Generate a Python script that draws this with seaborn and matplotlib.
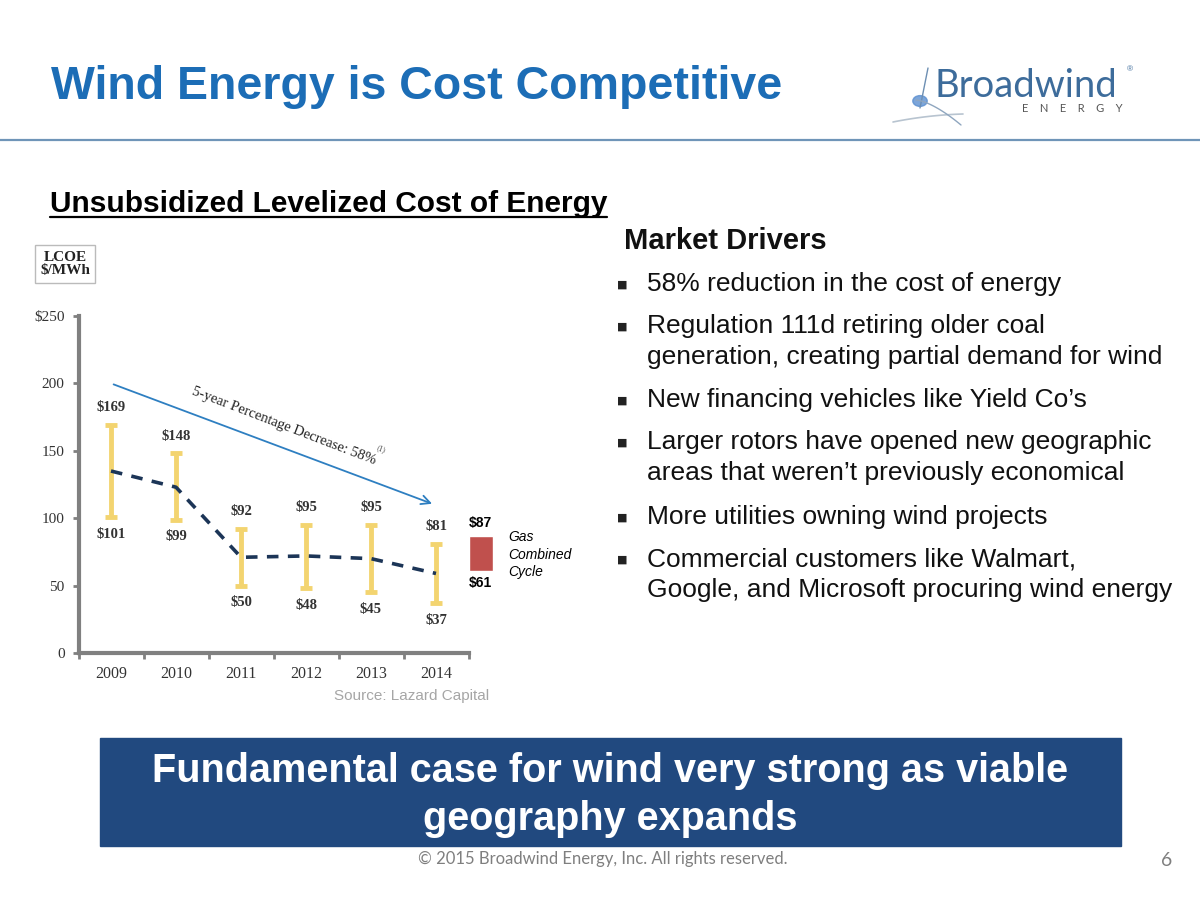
import numpy as np
import pandas as pd
import matplotlib
matplotlib.use("Agg")
import matplotlib.pyplot as plt
from matplotlib.patches import Rectangle
from matplotlib.lines import Line2D
import seaborn as sns

# Chart data
years = ["2009", "2010", "2011", "2012", "2013", "2014"]
lcoe_high = [169, 148, 92, 95, 95, 81]
lcoe_low = [101, 99, 50, 48, 45, 37]
lcoe_mid = [135, 123, 71, 72, 70, 59]
gas_low = 61
gas_high = 87
trend_start = 200
trend_end = 110
y_ticks = [0, 50, 100, 150, 200, 250]
y_tick_labels = ["0", "50", "100", "150", "200", "$250"]

bullets = [
    "58% reduction in the cost of energy",
    "Regulation 111d retiring older coal\ngeneration, creating partial demand for wind",
    "New financing vehicles like Yield Co\u2019s",
    "Larger rotors have opened new geographic\nareas that weren\u2019t previously economical",
    "More utilities owning wind projects",
    "Commercial customers like Walmart,\nGoogle, and Microsoft procuring wind energy",
]
bullet_y = [285, 327, 401, 443, 518, 560]

df = pd.DataFrame({"pos": np.arange(len(years)), "mid": lcoe_mid,
                   "low": lcoe_low, "high": lcoe_high})

sns.set_theme(style="white")
SANS = ["Liberation Sans", "DejaVu Sans"]
SERIF = ["Liberation Serif", "DejaVu Serif"]
plt.rcParams["font.family"] = SANS

W, H = 1200, 900
fig = plt.figure(figsize=(12, 9), dpi=100)
fig.patch.set_facecolor("white")


def fx(x):
    return x / W


def fy(y):
    return 1 - y / H


# -----------------------
# Slide header
# -----------------------
fig.text(fx(51), fy(87), "Wind Energy is Cost Competitive", fontsize=33.5,
         fontweight="bold", color="#1c6db6", va="center", ha="left")
fig.add_artist(Line2D([0, 1], [fy(140), fy(140)], transform=fig.transFigure,
                      color="#6f95b8", lw=1.6))

# logo
fig.text(fx(935), fy(86), "Broadwind", fontsize=27.5, color="#3d6c9b",
         family=["Lato", "DejaVu Sans"], va="center", ha="left")
fig.text(fx(1127), fy(70), "\u00ae", fontsize=6, color="#3d6c9b", va="center")
fig.text(fx(1072), fy(109), "E    N    E    R    G    Y", fontsize=8, color="#555555",
         family=["Lato", "DejaVu Sans"], va="center", ha="center")
t = np.linspace(0, 1, 50)
fig.add_artist(Line2D(fx(893 + 70 * t), fy(122 - 14 * t + 6 * t ** 2),
                      transform=fig.transFigure, color="#b8c4d0", lw=1.2))
fig.add_artist(Line2D(fx(928 - 8 * t), fy(68 + 40 * t), transform=fig.transFigure,
                      color="#6d8fb3", lw=1.0))
fig.add_artist(Line2D(fx(916 + 45 * t), fy(100 + 25 * t ** 1.5), transform=fig.transFigure,
                      color="#8fa6bf", lw=1.0))
fig.add_artist(plt.Circle((fx(920), fy(101)), 0.006, transform=fig.transFigure,
                          color="#5b8fd0", alpha=0.8))

# subtitle
fig.text(fx(50), fy(204), "Unsubsidized Levelized Cost of Energy", fontsize=21.5,
         fontweight="bold", color="black", va="center", ha="left")
fig.add_artist(Line2D([fx(50), fx(607)], [fy(217), fy(217)], transform=fig.transFigure,
                      color="black", lw=1.6))

# Market drivers
fig.text(fx(624), fy(241), "Market Drivers", fontsize=21, fontweight="bold",
         color="#111111", va="center", ha="left")
for txt, yb in zip(bullets, bullet_y):
    fig.text(fx(617), fy(yb), "\u25a0", fontsize=8, color="#222222",
             va="center", ha="left", family=["DejaVu Sans"])
    fig.text(fx(647), fy(yb - 13), txt, fontsize=19, color="#111111", va="top",
             ha="left", linespacing=1.38)

# -----------------------
# Chart
# -----------------------
ax = fig.add_axes([fx(78.5), fy(653), (566 - 78.5) / W, (653 - 316) / H])
ax.set_xlim(-0.5, 7.0)
ax.set_ylim(0, 250)
ax.patch.set_alpha(0)

gold = "#f3d470"
center = (df["low"] + df["high"]) / 2
ax.errorbar(df["pos"], center, yerr=(df["high"] - df["low"]) / 2, fmt="none",
            ecolor=gold, elinewidth=3.5, capsize=4.5, capthick=3.5, zorder=2)
sns.lineplot(data=df, x="pos", y="mid", ax=ax, color="#1c3557", lw=2.6,
             dashes=False, zorder=3)
ax.lines[-1].set_dashes((3.2, 2.6))

for p, lo, hi in zip(df["pos"], df["low"], df["high"]):
    ax.text(p, hi + 8, f"${hi}", ha="center", va="bottom", fontsize=10.5,
            family=SERIF, fontweight="bold", color="#333333")
    ax.text(p, lo - 8, f"${lo}", ha="center", va="top", fontsize=10.5,
            family=SERIF, fontweight="bold", color="#333333")

# gas combined cycle bar
gas_x = 5.69
ax.bar([gas_x], [gas_high - gas_low], bottom=[gas_low], width=0.37,
       color="#c0504d", clip_on=False)
ax.text(gas_x, gas_high + 4, f"${gas_high}", ha="center", va="bottom",
        fontsize=10, fontweight="bold", color="black")
ax.text(gas_x, gas_low - 4, f"${gas_low}", ha="center", va="top",
        fontsize=10, fontweight="bold", color="black")
ax.text(6.11, (gas_low + gas_high) / 2 - 1, "Gas\nCombined\nCycle", ha="left",
        va="center", fontsize=10, style="italic", color="black", linespacing=1.3)

# trend arrow
ax.annotate("", xy=(4.98, trend_end), xytext=(0, trend_start),
            arrowprops=dict(arrowstyle="->", color="#2e7fc1", lw=1.3,
                            mutation_scale=16))
ax.text(2.66, 168, "5-year Percentage Decrease: 58%", rotation=-21,
        rotation_mode="anchor", ha="center", va="center", fontsize=10.5,
        family=SERIF, color="#222222")
ax.text(4.16, 151, "(1)", rotation=-21, ha="center", va="center", fontsize=5.5,
        family=SERIF, color="#444444")

# axes styling
for s in ["top", "right"]:
    ax.spines[s].set_visible(False)
for s in ["left", "bottom"]:
    ax.spines[s].set_color("#808080")
    ax.spines[s].set_linewidth(3)
ax.spines["bottom"].set_bounds(-0.5, 5.5)
ax.set_yticks(y_ticks)
ax.set_yticklabels(y_tick_labels, family=SERIF, fontsize=11, color="#333333")
ax.set_xticks(df["pos"])
ax.set_xticklabels(years, family=SERIF, fontsize=11.5, color="#333333")
ax.set_xticks(np.arange(-0.5, 6.0, 1.0), minor=True)
ax.tick_params(axis="x", which="major", length=0, pad=9)
ax.tick_params(axis="x", which="minor", length=4, width=2, color="#808080",
               direction="out", bottom=True)
ax.tick_params(axis="y", length=4, width=2, color="#808080", direction="out",
               left=True, pad=6)
ax.set_xlabel("")
ax.set_ylabel("")
ax.grid(False)

# LCOE box
fig.text(fx(65), fy(264), "LCOE\n$/MWh", ha="center", va="center", fontsize=11,
         family=SERIF, fontweight="bold", color="#222222", linespacing=1.05,
         bbox=dict(boxstyle="square,pad=0.35", fc="white", ec="#bbbbbb", lw=1))

fig.text(fx(412), fy(696), "Source: Lazard Capital", ha="center", va="center",
         fontsize=11, color="#a6a6a6")

# -----------------------
# Banner and footer
# -----------------------
fig.patches.append(Rectangle((fx(100), fy(846)), (1121 - 100) / W, 108 / H,
                             transform=fig.transFigure, color="#21497f", zorder=0))
fig.text(fx(610), fy(795), "Fundamental case for wind very strong as viable\ngeography expands",
         ha="center", va="center", fontsize=28.5, fontweight="bold", color="white",
         linespacing=1.32)
fig.text(fx(603), fy(859), "\u00a9 2015 Broadwind Energy, Inc. All rights reserved.",
         ha="center", va="center", fontsize=12, color="#7f7f7f",
         family=["Lato", "DejaVu Sans"])
fig.text(fx(1167), fy(860), "6", ha="center", va="center", fontsize=14,
         color="#7f7f7f", family=["Lato", "DejaVu Sans"])

fig.savefig("out.png", dpi=100)
